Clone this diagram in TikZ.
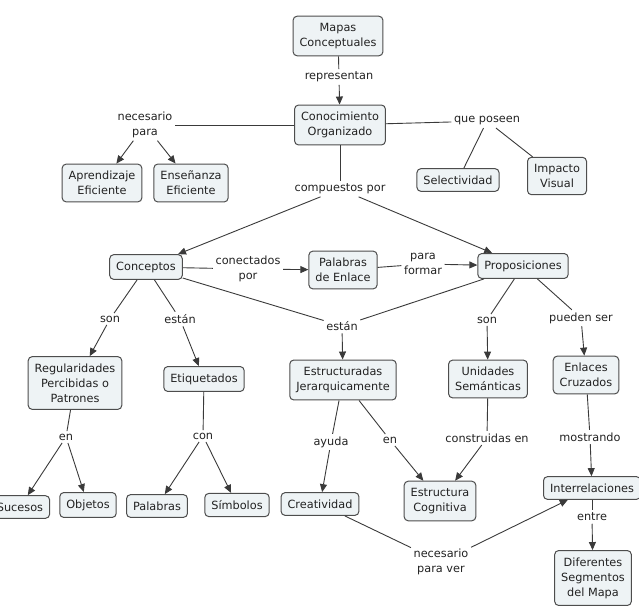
\documentclass[tikz,border=0pt]{standalone}
\usepackage{fontspec}
\setmainfont{DejaVu Sans}
\usetikzlibrary{arrows.meta}
\definecolor{boxfill}{HTML}{EEF3F5}
\definecolor{boxline}{HTML}{4D4D4D}
\definecolor{linkline}{HTML}{3A3A3A}
\definecolor{inktext}{HTML}{222222}
\tikzset{
  concept/.style={draw=boxline, fill=boxfill, rounded corners=4pt, line width=1pt, text=inktext,
    align=center, inner xsep=6.5pt, inner ysep=7pt, font=\fontsize{11.3}{15}\selectfont},
  phrase/.style={align=center, inner sep=2.5pt, text=inktext, font=\fontsize{11.3}{15}\selectfont},
  conn/.style={draw=linkline, line width=0.9pt},
  connarrow/.style={conn, -{Triangle[length=8pt,width=7pt]}},
}
\begin{document}
\begin{tikzpicture}[x=1pt,y=-1pt]
        \useasboundingbox (0,0) rectangle (639,610);

        % concepts
        \node[concept] (mapas) at (338,36) {Mapas\\Conceptuales};
        \node[concept] (conoc) at (340,125) {Conocimiento\\Organizado};
        \node[concept] (aprend) at (102,183) {Aprendizaje\\Eficiente};
        \node[concept] (ensen) at (191,183) {Enseñanza\\Eficiente};
        \node[concept] (selec) at (458,180) {Selectividad};
        \node[concept] (impacto) at (557,176) {Impacto\\Visual};
        \node[concept] (conceptos) at (146,267) {Conceptos};
        \node[concept] (palenlace) at (343,270) {Palabras\\de Enlace};
        \node[concept] (prop) at (523,266) {Proposiciones};
        \node[concept] (regul) at (75,383) {Regularidades\\Percibidas o\\Patrones};
        \node[concept] (etiq) at (204,379) {Etiquetados};
        \node[concept] (estrjer) at (343,380) {Estructuradas\\Jerarquicamente};
        \node[concept] (unid) at (488,379) {Unidades\\Semánticas};
        \node[concept] (enlcruz) at (586,375) {Enlaces\\Cruzados};
        \node[concept] (sucesos) at (20,507) {Sucesos};
        \node[concept] (objetos) at (88,505) {Objetos};
        \node[concept] (palabras) at (157,506) {Palabras};
        \node[concept] (simbolos) at (237,505) {Símbolos};
        \node[concept] (creat) at (320,504) {Creatividad};
        \node[concept] (estrcog) at (440,501) {Estructura\\Cognitiva};
        \node[concept] (interrel) at (592,488) {Interrelaciones};
        \node[concept] (difseg) at (593,578) {Diferentes\\Segmentos\\del Mapa};

        % linking phrases
        \node[phrase] (representan) at (339,77) {representan};
        \node[phrase] (necpara) at (145,125) {necesario\\para};
        \node[phrase] (queposeen) at (487,121) {que poseen};
        \node[phrase] (compuestos) at (340,189) {compuestos por};
        \node[phrase] (conectados) at (248,269) {conectados\\por};
        \node[phrase] (paraformar) at (423,264) {para\\formar};
        \node[phrase] (sonA) at (110,319) {son};
        \node[phrase] (estanA) at (180,319) {están};
        \node[phrase] (estanB) at (342,326) {están};
        \node[phrase] (sonB) at (487,320) {son};
        \node[phrase] (pueden) at (581,318) {pueden ser};
        \node[phrase] (enA) at (66,437) {en};
        \node[phrase] (con) at (203,436) {con};
        \node[phrase] (ayuda) at (331,442) {ayuda};
        \node[phrase] (enB) at (390,440) {en};
        \node[phrase] (construidas) at (487,438) {construidas en};
        \node[phrase] (mostrando) at (590,437) {mostrando};
        \node[phrase] (entre) at (592,517) {entre};
        \node[phrase] (necver) at (441,562) {necesario\\para ver};

        % connectors
        \draw[conn] (mapas) -- (representan);
        \draw[connarrow] (representan) -- (conoc);
        \draw[conn] (conoc) -- (necpara);
        \draw[connarrow] (necpara) -- (aprend);
        \draw[connarrow] (necpara) -- (ensen);
        \draw[conn] (conoc) -- (queposeen);
        \draw[conn] (queposeen) -- (selec);
        \draw[conn] (queposeen) -- (impacto);
        \draw[conn] (conoc) -- (compuestos);
        \draw[connarrow] (compuestos) -- (conceptos);
        \draw[connarrow] (compuestos) -- (prop);

        \draw[conn] (conceptos) -- (conectados);
        \draw[connarrow] (conectados) -- (palenlace);
        \draw[conn] (palenlace) -- (paraformar);
        \draw[connarrow] (paraformar) -- (prop);
        \draw[conn] (conceptos) -- (sonA);
        \draw[connarrow] (sonA) -- (regul);
        \draw[conn] (conceptos) -- (estanA);
        \draw[connarrow] (estanA) -- (etiq);
        \draw[conn] (conceptos) -- (estanB);
        \draw[conn] (prop) -- (estanB);
        \draw[connarrow] (estanB) -- (estrjer);
        \draw[conn] (prop) -- (sonB);
        \draw[connarrow] (sonB) -- (unid);
        \draw[conn] (prop) -- (pueden);
        \draw[connarrow] (pueden) -- (enlcruz);

        \draw[conn] (regul) -- (enA);
        \draw[connarrow] (enA) -- (sucesos);
        \draw[connarrow] (enA) -- (objetos);
        \draw[conn] (etiq) -- (con);
        \draw[connarrow] (con) -- (palabras);
        \draw[connarrow] (con) -- (simbolos);
        \draw[conn] (estrjer) -- (ayuda);
        \draw[connarrow] (ayuda) -- (creat);
        \draw[conn] (estrjer) -- (enB);
        \draw[connarrow] (enB) -- (estrcog);
        \draw[conn] (unid) -- (construidas);
        \draw[connarrow] (construidas) -- (estrcog);
        \draw[conn] (enlcruz) -- (mostrando);
        \draw[connarrow] (mostrando) -- (interrel);
        \draw[conn] (interrel) -- (entre);
        \draw[connarrow] (entre) -- (difseg);
        \draw[conn] (creat) -- (necver);
        \draw[connarrow] (necver) -- (interrel);
      \end{tikzpicture}
\end{document}
